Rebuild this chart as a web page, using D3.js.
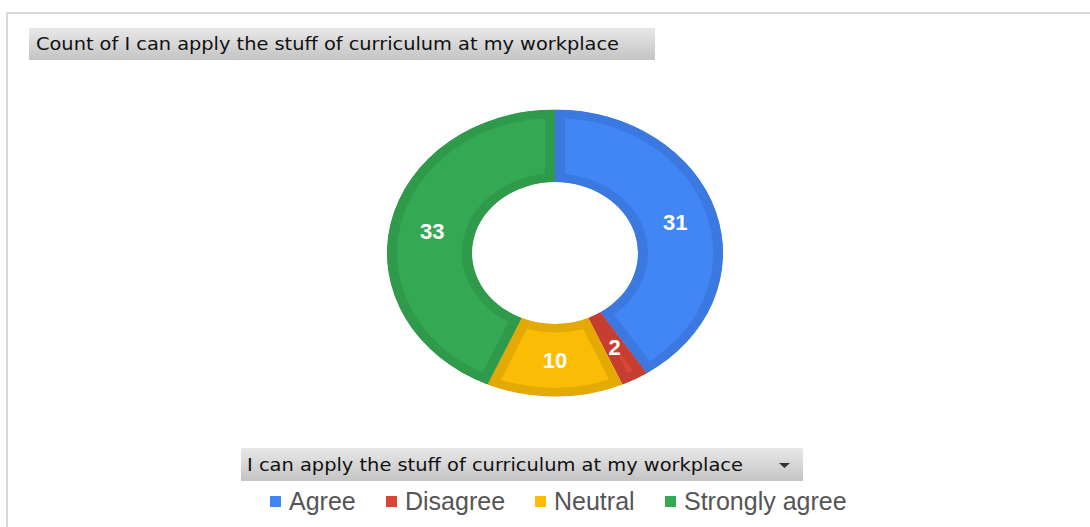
<!DOCTYPE html>
<html>
<head>
<meta charset="UTF-8">
<title>Count of I can apply the stuff of curriculum at my workplace</title>
<style>
  body { margin: 0; background: #fff; }
</style>
</head>
<body>
<script src="https://d3js.org/d3.v7.min.js"></script>
<svg></svg>
<script>
    let categories = ["Agree", "Disagree", "Neutral", "Strongly agree"];
    let counts = [31, 2, 10, 33];
    let fills = ["#4285f4", "#db4437", "#fbbc05", "#34a853"];
    let edges = ["#3b79e1", "#c63d31", "#e3a905", "#2f9a4c"];

    let title = "Count of I can apply the stuff of curriculum at my workplace";
    let fieldName = "I can apply the stuff of curriculum at my workplace";

    let width = 1090, height = 527;
    let svg = d3.select("svg")
        .attr("width", width)
        .attr("height", height)
        .style("display", "block");

    let defs = svg.append("defs");
    let grad = defs.append("linearGradient")
        .attr("id", "btn").attr("x1", 0).attr("y1", 0).attr("x2", 0).attr("y2", 1);
    grad.append("stop").attr("offset", "0%").attr("stop-color", "#e8e8e8");
    grad.append("stop").attr("offset", "100%").attr("stop-color", "#c4c4c4");

    // frame
    svg.append("path")
        .attr("d", "M7,527 V13 H1090")
        .attr("fill", "none")
        .attr("stroke", "#d9d9d9")
        .attr("stroke-width", 2);

    // title button
    svg.append("rect")
        .attr("x", 29).attr("y", 28).attr("width", 626).attr("height", 32)
        .attr("fill", "url(#btn)");
    svg.append("text")
        .attr("x", 36).attr("y", 50)
        .attr("font-family", "DejaVu Sans Condensed, DejaVu Sans, sans-serif")
        .attr("font-size", 17)
        .attr("textLength", 583)
        .attr("lengthAdjust", "spacingAndGlyphs")
        .attr("fill", "#111")
        .text(title);

    // donut, drawn on a circle then squashed to an ellipse
    let cx = 555, cy = 253, R = 168, r = 83, sy = 143.5 / 168;
    let pie = d3.pie().sort(null).value(d => d.value);
    let arcs = pie(categories.map((c, i) => ({name: c, value: counts[i], i: i})));
    let arc = d3.arc().innerRadius(r).outerRadius(R);

    let g = svg.append("g")
        .attr("transform", "translate(" + cx + "," + cy + ") scale(1," + sy + ")");

    arcs.forEach((a, k) => {
        defs.append("clipPath").attr("id", "clip" + k)
            .append("path").attr("d", arc(a));
    });

    g.selectAll("path.slice")
        .data(arcs)
        .enter()
        .append("path")
        .attr("class", "slice")
        .attr("d", arc)
        .attr("fill", d => fills[d.data.i])
        .attr("stroke", d => edges[d.data.i])
        .attr("stroke-width", 20)
        .attr("clip-path", (d, k) => "url(#clip" + k + ")");

    svg.selectAll("text.lbl")
        .data(arcs)
        .enter()
        .append("text")
        .attr("class", "lbl")
        .attr("x", d => cx + arc.centroid(d)[0])
        .attr("y", d => cy + arc.centroid(d)[1] * sy + 8)
        .attr("text-anchor", "middle")
        .attr("font-family", "Liberation Sans, Arial, sans-serif")
        .attr("font-weight", "bold")
        .attr("font-size", 22)
        .attr("fill", "#fff")
        .text(d => d.data.value);

    // field button under the chart
    svg.append("rect")
        .attr("x", 241).attr("y", 448).attr("width", 562).attr("height", 33)
        .attr("fill", "url(#btn)");
    svg.append("text")
        .attr("x", 247).attr("y", 471)
        .attr("font-family", "DejaVu Sans Condensed, DejaVu Sans, sans-serif")
        .attr("font-size", 17)
        .attr("textLength", 496)
        .attr("lengthAdjust", "spacingAndGlyphs")
        .attr("fill", "#111")
        .text(fieldName);
    svg.append("path")
        .attr("d", "M779,463 h11 l-5.5,5 z")
        .attr("fill", "#333");

    // legend
    let legendX = [270, 386, 535, 665];
    let legend = svg.selectAll("g.leg")
        .data(categories)
        .enter()
        .append("g")
        .attr("class", "leg")
        .attr("transform", (d, i) => "translate(" + legendX[i] + ",0)");
    legend.append("rect")
        .attr("x", 0).attr("y", 496).attr("width", 11).attr("height", 11)
        .attr("fill", (d, i) => fills[i]);
    legend.append("text")
        .attr("x", 19).attr("y", 510)
        .attr("font-family", "Liberation Sans, Arial, sans-serif")
        .attr("font-size", 25)
        .attr("fill", "#555")
        .text(d => d);
</script>
</body>
</html>
